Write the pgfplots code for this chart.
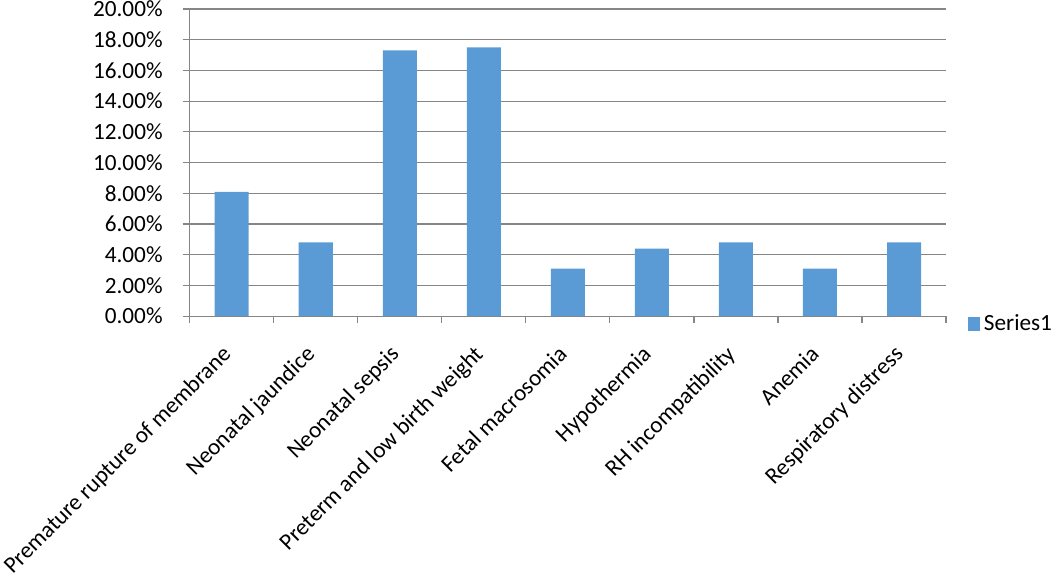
\documentclass[border=0pt]{standalone}
\usepackage{fontspec}
\setmainfont{Carlito}
\usepackage{pgfplots}
\pgfplotsset{compat=1.18}
\definecolor{barblue}{HTML}{5B9BD5}
\definecolor{gridgray}{RGB}{134,134,134}

\begin{document}
\begin{tikzpicture}
\begin{axis}[
    scale only axis, width=378pt, height=153.5pt,
    ybar, bar width=17pt,
    xmin=-0.5, xmax=8.5, ymin=0, ymax=20,
    xtick={0,...,8},
    xticklabels={Premature rupture of membrane, Neonatal jaundice, Neonatal sepsis,
      Preterm and low birth weight, Fetal macrosomia, Hypothermia,
      RH incompatibility, Anemia, Respiratory distress},
    minor xtick={-0.5,0.5,...,8.5},
    ytick={0,2,...,20},
    yticklabel={\pgfmathprintnumber[fixed,fixed zerofill,precision=2]{\tick}\%},
    /pgf/number format/assume math mode=true,
    axis x line*=bottom, axis y line*=left,
    axis line style={gridgray, line width=0.6pt},
    tick align=outside, major tick length=3.5pt, minor tick length=3.5pt,
    major x tick style={draw=none},
    minor x tick style={gridgray, line width=0.6pt},
    ytick style={gridgray, line width=0.6pt},
    ymajorgrids, grid style={gridgray, line width=0.6pt},
    ticklabel style={font=\fontsize{11.6}{13}\selectfont},
    xticklabel style={inner sep=0.5pt, xshift=-5.5pt, rotate=45, anchor=north east},
    yticklabel style={inner ysep=0.5pt},
    xticklabel shift=9.5pt, yticklabel shift=6.5pt,
    legend style={at={(1.029,-0.027)}, anchor=west, draw=none, fill=none,
      inner sep=0pt, outer sep=0pt, font=\fontsize{11.6}{13}\selectfont},
    legend image code/.code={\fill[barblue] (0pt,-3.5pt) rectangle (6pt,3.5pt);},
]
\addplot[fill=barblue, draw=none] coordinates {
  (0,8.1) (1,4.8) (2,17.3) (3,17.5) (4,3.1) (5,4.4) (6,4.8) (7,3.1) (8,4.8)};
\legend{Series1}
\end{axis}
\end{tikzpicture}
\end{document}
